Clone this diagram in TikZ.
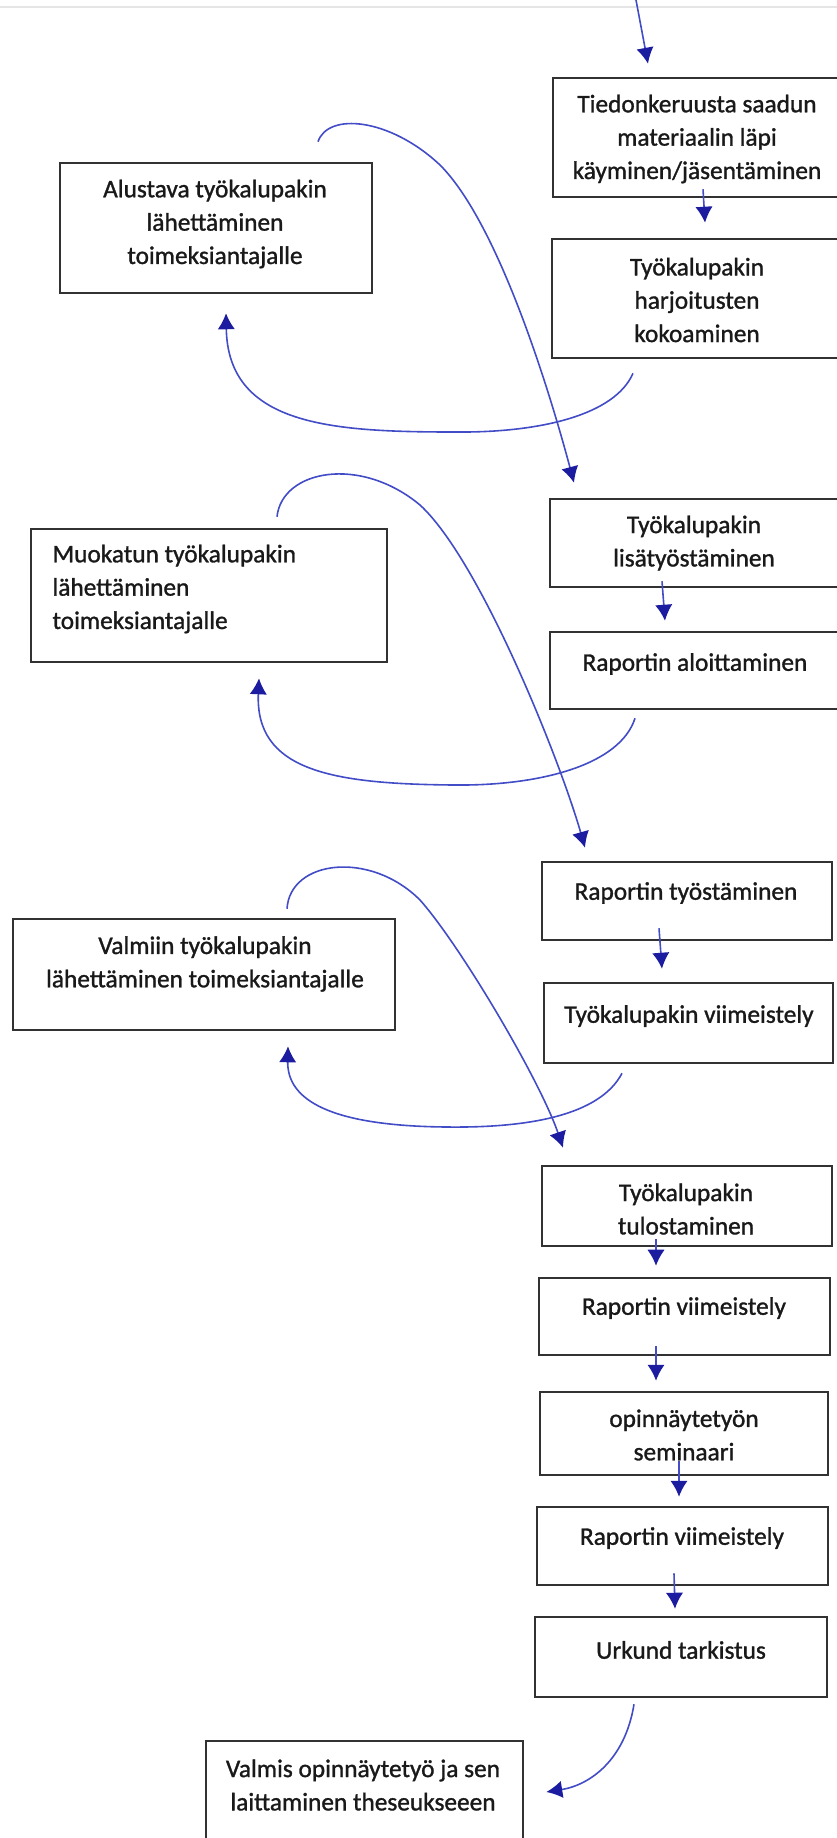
\documentclass[tikz,border=0pt]{standalone}
\usepackage{fontspec}
\setmainfont{Carlito}
\newfontfamily\stepface{Carlito}[FakeBold=1.2]
\usetikzlibrary{arrows.meta}

\definecolor{penblue}{RGB}{66,76,198}
\definecolor{tipblue}{RGB}{28,28,160}
\definecolor{boxgray}{RGB}{50,50,50}
\newcommand{\stepfont}{\stepface\fontsize{19}{25}\selectfont}

\tikzset{every picture/.style={line width=0.75pt}}
\tikzset{
	stepbox/.style={draw=boxgray, line width=1.9pt, rectangle, inner sep=0pt},
	steptext/.style={inner sep=0.75pt, font=\stepfont, text=black!90, align=center},
	flow/.style={draw=penblue, line width=1.2pt, -{Latex[length=12pt,width=13pt,color=tipblue]}}
}

\begin{document}
\begin{tikzpicture}[x=0.75pt,y=0.75pt,yscale=-1,xscale=1]
	\useasboundingbox (0,0) rectangle (837,1838);
	\clip (0,0) rectangle (837,1838);

	%Straight Lines (faint page edge)
	\draw [color=black!10, line width=0.9pt] (0,7) -- (837,7) ;

	%Shape: Rectangle (right column)
	\node [stepbox, minimum width=288*0.75pt, minimum height=119*0.75pt] (tiedon) at (697,137.5) {};
	\node [stepbox, minimum width=290*0.75pt, minimum height=119*0.75pt] (harjoitus) at (697,298.5) {};
	\node [stepbox, minimum width=290*0.75pt, minimum height=88*0.75pt] (lisatyo) at (695,543) {};
	\node [stepbox, minimum width=290*0.75pt, minimum height=77*0.75pt] (aloitus) at (695,670.5) {};
	\node [stepbox, minimum width=290*0.75pt, minimum height=78*0.75pt] (tyostaminen) at (687,901) {};
	\node [stepbox, minimum width=289*0.75pt, minimum height=80*0.75pt] (viimeistely) at (688.5,1023) {};
	\node [stepbox, minimum width=290*0.75pt, minimum height=80*0.75pt] (tulostus) at (687,1206) {};
	\node [stepbox, minimum width=291*0.75pt, minimum height=77*0.75pt] (raporttiviim) at (684.5,1316.5) {};
	\node [stepbox, minimum width=288*0.75pt, minimum height=83*0.75pt] (seminaari) at (684,1433.5) {};
	\node [stepbox, minimum width=291*0.75pt, minimum height=78*0.75pt] (raporttiviim2) at (682.5,1546) {};
	\node [stepbox, minimum width=292*0.75pt, minimum height=80*0.75pt] (urkund) at (681,1657) {};
	%Shape: Rectangle (left column)
	\node [stepbox, minimum width=312*0.75pt, minimum height=130*0.75pt] (alustava) at (216,228) {};
	\node [stepbox, minimum width=356*0.75pt, minimum height=133*0.75pt] (muokattu) at (209,595.5) {};
	\node [stepbox, minimum width=382*0.75pt, minimum height=111*0.75pt] (valmiin) at (204,974.5) {};
	\node [stepbox, minimum width=317*0.75pt, minimum height=119*0.75pt] (valmis) at (364.5,1800.5) {};

	% Text Node
	\node [steptext] (tiedonT) at (697,139) {Tiedonkeruusta saadun\\materiaalin läpi\\käyminen/jäsentäminen};
	% Text Node
	\node [steptext] (harjoitusT) at (697,300) {Työkalupakin\\harjoitusten\\kokoaminen};
	% Text Node
	\node [steptext] (alustavaT) at (215,224) {Alustava työkalupakin\\lähettäminen\\toimeksiantajalle};
	% Text Node
	\node [steptext] (lisatyoT) at (694,543) {Työkalupakin\\lisätyöstäminen};
	% Text Node
	\node [steptext] (aloitusT) at (695,664) {Raportin aloittaminen};
	% Text Node
	\node [steptext, anchor=west, align=left] (muokattuT) at (51,589) {Muokatun työkalupakin\\lähettäminen\\toimeksiantajalle};
	% Text Node
	\node [steptext] (tyostaminenT) at (686,893) {Raportin työstäminen};
	% Text Node
	\node [steptext] (viimeistelyT) at (689,1016) {Työkalupakin viimeistely};
	% Text Node
	\node [steptext] (valmiinT) at (205,964) {Valmiin työkalupakin\\lähettäminen toimeksiantajalle};
	% Text Node
	\node [steptext] (tulostusT) at (686,1209) {Työkalupakin\\tulostaminen};
	% Text Node
	\node [steptext] (raporttiviimT) at (684,1308) {Raportin viimeistely};
	% Text Node
	\node [steptext] (seminaariT) at (684,1435) {opinnäytetyön\\seminaari};
	% Text Node
	\node [steptext] (raporttiviim2T) at (682,1538) {Raportin viimeistely};
	% Text Node
	\node [steptext] (urkundT) at (681,1650) {Urkund tarkistus};
	% Text Node
	\node [steptext] (valmisT) at (363,1785) {Valmis opinnäytetyö ja sen\\laittaminen theseukseeen};

	%Straight Lines
	\coordinate (alku) at (636,0);
	\draw [flow] (alku) -- ([shift={(-49,-13)}]tiedon.north) ;
	\draw [flow] ([shift={(6,-9)}]tiedon.south) -- ([shift={(8,-15)}]harjoitus.north) ;
	\draw [flow] ([shift={(-33,-7)}]lisatyo.south) -- ([shift={(-30,-10)}]aloitus.north) ;
	\draw [flow] ([shift={(-28,-13)}]tyostaminen.south) -- ([shift={(-26.5,-13)}]viimeistely.north) ;
	\draw [flow] ([shift={(-31,-8)}]tulostus.south) -- ([shift={(-28.5,-11)}]raporttiviim.north) ;
	\draw [flow] ([shift={(-28.5,-10)}]raporttiviim.south) -- ([shift={(-28,-10)}]seminaari.north) ;
	\draw [flow] ([shift={(-5,-15)}]seminaari.south) -- ([shift={(-3.5,-9)}]raporttiviim2.north) ;
	\draw [flow] ([shift={(-8.5,-13)}]raporttiviim2.south) -- ([shift={(-6,-7)}]urkund.north) ;

	%Curve Lines (back to the left column)
	\draw [flow] ([shift={(-64,14)}]harjoitus.south) .. controls (615,415) and (540,433) .. (454,432) .. controls (330,432) and (228,425) .. ([shift={(10,19)}]alustava.south) ;
	\draw [flow] ([shift={(-60,8)}]aloitus.south) .. controls (620,765) and (540,786) .. (454,785) .. controls (330,784) and (255,770) .. ([shift={(50,15)}]muokattu.south) ;
	\draw [flow] ([shift={(-66.5,9)}]viimeistely.south) .. controls (600,1115) and (530,1128) .. (447,1127) .. controls (330,1126) and (287,1100) .. ([shift={(84,15)}]valmiin.south) ;
	%Curve Lines (over to the right column)
	\draw [flow] ([shift={(102,-20)}]alustava.north) .. controls (328,112) and (390,118) .. (440,165) .. controls (500,225) and (552,400) .. ([shift={(-121,-15)}]lisatyo.north) ;
	\draw [flow] ([shift={(68,-11)}]muokattu.north) .. controls (282,470) and (360,455) .. (420,505) .. controls (480,560) and (560,760) .. ([shift={(-102,-13)}]tyostaminen.north) ;
	\draw [flow] ([shift={(83,-9)}]valmiin.north) .. controls (290,860) and (370,850) .. (420,900) .. controls (460,945) and (540,1080) .. ([shift={(-124,-17)}]tulostus.north) ;
	%Curve Lines (to the last step)
	\draw [flow] ([shift={(-47,6)}]urkund.south) .. controls (625,1760) and (590,1785) .. ([shift={(22,-8.5)}]valmis.east) ;

\end{tikzpicture}
\end{document}
